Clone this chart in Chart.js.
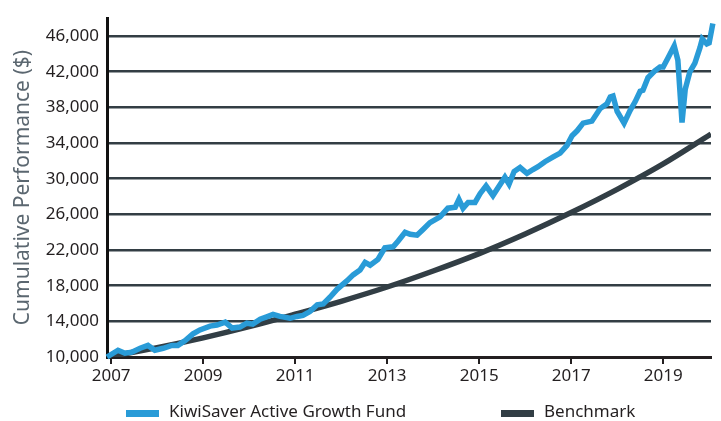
<!DOCTYPE html>
<html>
<head>
<meta charset="utf-8">
<script src="https://cdn.jsdelivr.net/npm/chart.js@4"></script>
<style>
  body { margin: 0; background: #fff; }
  canvas { display: block; }
</style>
</head>
<body>
<canvas id="myChart" width="721" height="421"></canvas>
<script>
// values (dates as decimal years)
const fundDates = [
  2006.91, 2007.15, 2007.30, 2007.45, 2007.63, 2007.80, 2007.95, 2008.13, 2008.32, 2008.45,
  2008.61, 2008.78, 2008.93, 2009.15, 2009.30, 2009.48, 2009.63, 2009.80, 2009.95, 2010.08,
  2010.24, 2010.41, 2010.52, 2010.67, 2010.89, 2011.04, 2011.17, 2011.32, 2011.48, 2011.61,
  2011.76, 2011.91, 2012.13, 2012.26, 2012.41, 2012.52, 2012.63, 2012.80, 2012.95, 2013.13,
  2013.24, 2013.39, 2013.50, 2013.65, 2013.78, 2013.93, 2014.15, 2014.32, 2014.48, 2014.56,
  2014.65, 2014.76, 2014.91, 2015.02, 2015.15, 2015.30, 2015.41, 2015.56, 2015.65, 2015.76,
  2015.89, 2016.04, 2016.17, 2016.28, 2016.43, 2016.61, 2016.76, 2016.91, 2017.02, 2017.13,
  2017.26, 2017.45, 2017.63, 2017.78, 2017.85, 2017.91, 2018.00, 2018.15, 2018.28, 2018.39,
  2018.50, 2018.56, 2018.67, 2018.82, 2018.93, 2019.00, 2019.11, 2019.24, 2019.32, 2019.41,
  2019.48, 2019.58, 2019.69, 2019.80, 2019.85, 2019.95, 2020.00, 2020.08
];
const fundValues = [
  10000, 10760, 10430, 10540, 10980, 11300, 10760, 10980, 11300, 11300,
  11840, 12600, 13040, 13470, 13580, 13900, 13250, 13360, 13790, 13690,
  14230, 14550, 14770, 14550, 14340, 14550, 14660, 15090, 15850, 15960,
  16720, 17590, 18560, 19210, 19760, 20620, 20300, 20950, 22250, 22360,
  23010, 23980, 23770, 23660, 24310, 25070, 25720, 26690, 26800, 27670,
  26690, 27340, 27340, 28320, 29190, 28100, 28970, 30160, 29400, 30810,
  31250, 30600, 31030, 31350, 31900, 32440, 32870, 33740, 34820, 35370,
  36230, 36450, 37860, 38400, 39160, 39270, 37540, 36230, 37640, 38620,
  39810, 39920, 41330, 42090, 42520, 42520, 43600, 44900, 43280, 36300,
  40030, 41980, 42950, 44690, 45670, 45120, 45230, 47400
];
const benchDates = [2006.91, 2008, 2009, 2010, 2011, 2012, 2013, 2014, 2015, 2016, 2017, 2018, 2019, 2020.04];
const benchValues = [10000, 11050, 12150, 13400, 14800, 16250, 17850, 19650, 21600, 23800, 26200, 28800, 31650, 35000];

const seriesNames = ['KiwiSaver Active Growth Fund', 'Benchmark'];
const xTicks = [2007, 2009, 2011, 2013, 2015, 2017, 2019];
const yTicks = [10000, 14000, 18000, 22000, 26000, 30000, 34000, 38000, 42000, 46000];

const fundData = fundDates.map((d, i) => ({ x: d, y: fundValues[i] }));
const benchData = benchDates.map((d, i) => ({ x: d, y: benchValues[i] }));

const FONT = '"Noto Sans", sans-serif';

// legend drawn below the axis, items spread like the original
const bottomLegend = {
  id: 'bottomLegend',
  afterDraw(chart) {
    const c = chart.ctx;
    const spots = [126, 501];
    c.save();
    c.font = '17px ' + FONT;
    c.textBaseline = 'alphabetic';
    chart.data.datasets.forEach((ds, i) => {
      c.fillStyle = ds.borderColor;
      c.fillRect(spots[i], 410, 33, 7);
      c.fillStyle = '#231f20';
      c.fillText(ds.label, spots[i] + 43, 417);
    });
    c.restore();
  }
};

const ctx = document.getElementById('myChart').getContext('2d');
const myChart = new Chart(ctx, {
  type: 'line',
  data: {
    datasets: [{
      label: seriesNames[0],
      data: fundData,
      borderColor: '#299bd7',
      borderWidth: 5.5,
      pointRadius: 0,
      tension: 0,
      clip: false
    }, {
      label: seriesNames[1],
      data: benchData,
      borderColor: '#323e45',
      borderWidth: 5.5,
      pointRadius: 0,
      cubicInterpolationMode: 'monotone'
    }]
  },
  options: {
    responsive: false,
    animation: false,
    devicePixelRatio: 1,
    layout: { padding: { top: 7, right: 10, bottom: 30, left: 0 } },
    plugins: {
      legend: { display: false },
      tooltip: { enabled: false }
    },
    scales: {
      x: {
        type: 'linear',
        min: 2006.91,
        max: 2020.04,
        afterBuildTicks: s => { s.ticks = xTicks.map(v => ({ value: v })); },
        afterFit: s => { s.height = 34; },
        grid: { drawOnChartArea: false, drawTicks: true, tickLength: 7, color: '#231f20', lineWidth: 2 },
        border: { display: true, color: '#231f20', width: 3 },
        ticks: {
          padding: 2,
          color: '#231f20',
          font: { family: FONT, size: 17 },
          maxRotation: 0,
          callback: v => String(v)
        }
      },
      y: {
        min: 10000,
        max: 48000,
        afterBuildTicks: s => { s.ticks = yTicks.map(v => ({ value: v })); },
        afterFit: s => { s.width = 107; },
        grid: { color: '#333e44', lineWidth: 2.5, drawTicks: false },
        border: { display: true, color: '#111', width: 3 },
        ticks: {
          padding: 8,
          color: '#231f20',
          font: { family: FONT, size: 17 },
          callback: v => v.toLocaleString('en-US')
        },
        title: {
          display: true,
          text: 'Cumulative Performance ($)',
          color: '#5b6770',
          font: { family: FONT, size: 21 },
          padding: { top: 10, bottom: 0 }
        }
      }
    }
  },
  plugins: [bottomLegend]
});
</script>
</body>
</html>
